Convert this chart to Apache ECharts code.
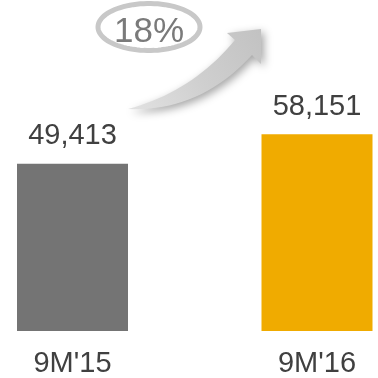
<!DOCTYPE html>
<html><head><meta charset="utf-8">
<script src="https://cdn.jsdelivr.net/npm/echarts@6/dist/echarts.min.js"></script>
<style>html,body{margin:0;padding:0;background:#fff}#c{width:378px;height:378px}</style>
</head><body><div id="c"></div>
<script>
const categories = ["9M'15", "9M'16"];
const values = [49413, 58151];
const barColors = ['#747474', '#f0ab00'];
const growthLabel = '18%';

function quad(p0, c, p1, n) {
  const pts = [];
  for (let i = 0; i <= n; i++) {
    const t = i / n, u = 1 - t;
    pts.push([u*u*p0[0] + 2*u*t*c[0] + t*t*p1[0], u*u*p0[1] + 2*u*t*c[1] + t*t*p1[1]]);
  }
  return pts;
}
const arrowPts = [].concat(
  quad([128,109],[192,92],[235,40],20),
  [[227,33],[261,29],[261,64],[252,55]],
  quad([252,55],[200,112],[128,109],20).slice(1)
);
const ellPts = [];
for (let i = 0; i < 90; i++) { const a = i/90*Math.PI*2; ellPts.push([149 + 51*Math.cos(a), 27 + 23.5*Math.sin(a)]); }

const chart = echarts.init(document.getElementById('c'), null, {renderer: 'canvas'});
chart.setOption({
  animation: false,
  grid: {left: 72.5, right: 61, top: 128, bottom: 46},
  xAxis: {
    type: 'category', data: categories, boundaryGap: false,
    axisLine: {show: false}, axisTick: {show: false},
    axisLabel: {color: '#404040', fontSize: 29, fontFamily: 'Liberation Sans', margin: 18}
  },
  yAxis: {type: 'value', min: 0, max: 60000, show: false, splitLine: {show: false}},
  series: [{
    type: 'bar', barWidth: 111,
    data: values.map((v, i) => ({value: v, itemStyle: {color: barColors[i]}})),
    label: {
      show: true, position: 'top', distance: 13, color: '#404040',
      fontSize: 29, fontFamily: 'Liberation Sans',
      formatter: p => p.value.toLocaleString('en-US')
    }
  }],
  graphic: [
    {
      type: 'polygon',
      shape: {points: arrowPts},
      style: {
        fill: {type: 'linear', x: 0, y: 1, x2: 1, y2: 0, colorStops: [
          {offset: 0, color: '#e2e2e2'}, {offset: 0.5, color: '#cfcfcf'}, {offset: 1, color: '#c2c2c2'}
        ]},
        shadowBlur: 8, shadowColor: 'rgba(0,0,0,0.35)', shadowOffsetX: 3, shadowOffsetY: 3
      }
    },
    {
      type: 'polygon',
      shape: {points: ellPts},
      style: {fill: '#fff', stroke: '#c8c8c8', lineWidth: 5}
    },
    {
      type: 'text', x: 149, y: 32,
      style: {text: growthLabel, fill: '#7a7a7a', font: '35px "Liberation Sans"', textAlign: 'center', textVerticalAlign: 'middle'}
    }
  ]
});
</script></body></html>
